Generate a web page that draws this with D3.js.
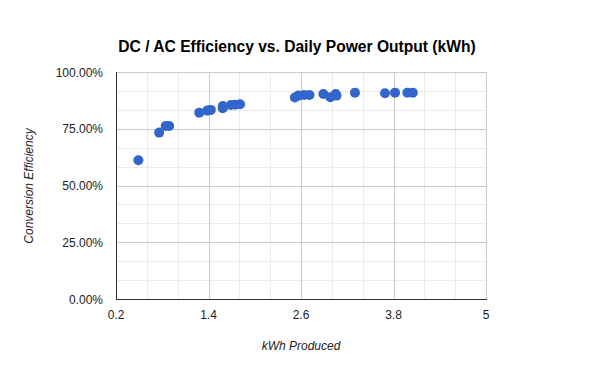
<!DOCTYPE html>
<html>
<head>
<meta charset="utf-8">
<script src="https://cdn.jsdelivr.net/npm/d3@7"></script>
<style>
  body { margin: 0; background: #fff; }
  text { font-family: Arial, "Liberation Sans", sans-serif; }
</style>
</head>
<body>
<svg width="600" height="371"></svg>
<script>
// daily kWh produced and DC/AC conversion efficiency (%)
var kwh = [0.49, 0.76, 0.845, 0.89, 1.28, 1.385, 1.43, 1.585, 1.585, 1.69, 1.745, 1.81,
           2.52, 2.565, 2.64, 2.71, 2.89, 2.98, 3.05, 3.06, 3.30, 3.69, 3.82, 3.98, 4.05];
var efficiency = [61.1, 73.3, 76.2, 76.2, 82.1, 83.0, 83.3, 84.0, 85.0, 85.5, 85.6, 85.8,
                  88.8, 89.6, 89.9, 89.9, 90.3, 88.9, 90.3, 89.6, 90.9, 90.6, 90.9, 90.9, 90.9];

var xTicks = [0.2, 1.4, 2.6, 3.8, 5];
var yTicks = [0, 25, 50, 75, 100];

var svg = d3.select("svg");
var pLeft = 116, pRight = 486, pTop = 72, pBottom = 299;

var x = d3.scaleLinear().domain([0.2, 5]).range([pLeft, pRight]);
var y = d3.scaleLinear().domain([0, 100]).range([pBottom, pTop]);

// minor gridlines
var xMinor = d3.range(0.2, 5.001, 0.4);
var yMinor = d3.range(0, 100.001, 25 / 3);

svg.append("g").selectAll("line")
    .data(xMinor).enter().append("line")
    .attr("x1", function(d) { return Math.round(x(d)) + 0.5; })
    .attr("x2", function(d) { return Math.round(x(d)) + 0.5; })
    .attr("y1", pTop).attr("y2", pBottom)
    .attr("stroke", "#ebebeb");

svg.append("g").selectAll("line")
    .data(yMinor).enter().append("line")
    .attr("y1", function(d) { return Math.round(y(d)) + 0.5; })
    .attr("y2", function(d) { return Math.round(y(d)) + 0.5; })
    .attr("x1", pLeft).attr("x2", pRight)
    .attr("stroke", "#ebebeb");

// major gridlines
svg.append("g").selectAll("line")
    .data(xTicks).enter().append("line")
    .attr("x1", function(d) { return Math.round(x(d)) + 0.5; })
    .attr("x2", function(d) { return Math.round(x(d)) + 0.5; })
    .attr("y1", pTop).attr("y2", pBottom)
    .attr("stroke", "#cccccc");

svg.append("g").selectAll("line")
    .data(yTicks).enter().append("line")
    .attr("y1", function(d) { return Math.round(y(d)) + 0.5; })
    .attr("y2", function(d) { return Math.round(y(d)) + 0.5; })
    .attr("x1", pLeft).attr("x2", pRight)
    .attr("stroke", "#cccccc");

// axis baselines
svg.append("line")
    .attr("x1", pLeft + 0.5).attr("x2", pLeft + 0.5)
    .attr("y1", pTop).attr("y2", pBottom + 1)
    .attr("stroke", "#333");
svg.append("line")
    .attr("x1", pLeft).attr("x2", pRight + 1)
    .attr("y1", pBottom + 0.5).attr("y2", pBottom + 0.5)
    .attr("stroke", "#333");

// tick labels
svg.append("g").selectAll("text")
    .data(xTicks).enter().append("text")
    .attr("x", function(d) { return x(d); })
    .attr("y", 319)
    .attr("text-anchor", "middle")
    .attr("font-size", 12)
    .attr("fill", "#222")
    .text(function(d) { return d; });

svg.append("g").selectAll("text")
    .data(yTicks).enter().append("text")
    .attr("x", pLeft - 13)
    .attr("y", function(d) { return y(d) + 4.5; })
    .attr("text-anchor", "end")
    .attr("font-size", 12)
    .attr("fill", "#222")
    .text(function(d) { return d.toFixed(2) + "%"; });

// points
svg.append("g").selectAll("circle")
    .data(kwh).enter().append("circle")
    .attr("cx", function(d) { return x(d); })
    .attr("cy", function(d, i) { return y(efficiency[i]); })
    .attr("r", 5)
    .attr("fill", "#3366cc");

// titles
svg.append("text")
    .attr("x", 297).attr("y", 52)
    .attr("text-anchor", "middle")
    .attr("font-size", 15.6)
    .attr("font-weight", "bold")
    .attr("fill", "#000")
    .text("DC / AC Efficiency vs. Daily Power Output (kWh)");

svg.append("text")
    .attr("x", 301).attr("y", 350)
    .attr("text-anchor", "middle")
    .attr("font-size", 12)
    .attr("font-style", "italic")
    .attr("fill", "#222")
    .text("kWh Produced");

svg.append("text")
    .attr("transform", "translate(33,186) rotate(-90)")
    .attr("text-anchor", "middle")
    .attr("font-size", 12)
    .attr("font-style", "italic")
    .attr("fill", "#222")
    .text("Conversion Efficiency");
</script>
</body>
</html>
